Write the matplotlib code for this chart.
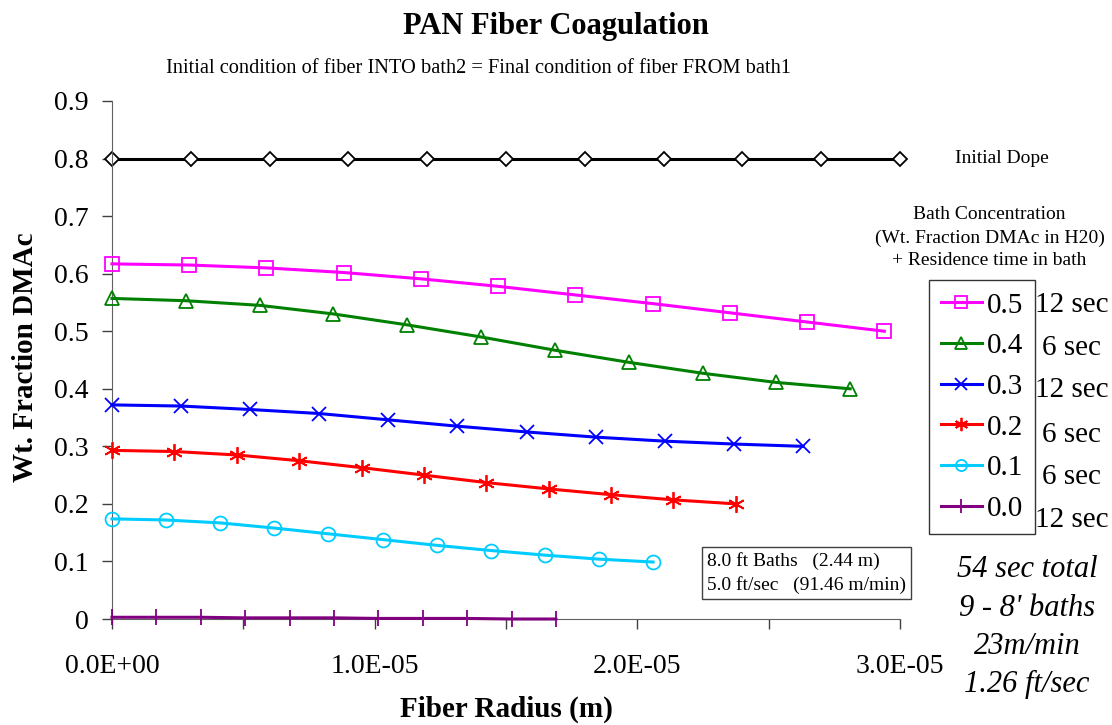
import matplotlib
matplotlib.use("Agg")
import matplotlib.pyplot as plt
from matplotlib.ticker import MultipleLocator, FuncFormatter
from matplotlib.lines import Line2D

plt.rcParams['font.family'] = ['Liberation Serif', 'DejaVu Serif']

# fiber radius (m) - each curve has 11 points from 0 to its end radius
r_end = {'dope': 3.0e-05, '0.5': 2.94e-05, '0.4': 2.81e-05, '0.3': 2.63e-05,
         '0.2': 2.375e-05, '0.1': 2.06e-05, '0.0': 1.69e-05}

dope = [0.8, 0.8, 0.8, 0.8, 0.8, 0.8, 0.8, 0.8, 0.8, 0.8, 0.8]
c05 = [0.617, 0.615, 0.610, 0.602, 0.591, 0.578, 0.563, 0.548, 0.532, 0.516, 0.500]
c04 = [0.557, 0.553, 0.545, 0.530, 0.511, 0.490, 0.467, 0.446, 0.427, 0.411, 0.400]
c03 = [0.372, 0.370, 0.364, 0.357, 0.346, 0.335, 0.325, 0.316, 0.309, 0.304, 0.300]
c02 = [0.293, 0.291, 0.285, 0.275, 0.263, 0.250, 0.237, 0.226, 0.216, 0.207, 0.200]
c01 = [0.174, 0.172, 0.167, 0.158, 0.148, 0.138, 0.128, 0.119, 0.111, 0.104, 0.099]
c00 = [0.003, 0.003, 0.003, 0.002, 0.002, 0.002, 0.001, 0.001, 0.001, 0.000, 0.000]

labels = ['0.5', '0.4', '0.3', '0.2', '0.1', '0.0']
times = ['12 sec', '6 sec', '12 sec', '6 sec', '6 sec', '12 sec']
notes = ['54 sec total', "9 - 8' baths", '23m/min', '1.26 ft/sec']


def radii(key, n):
    return [r_end[key] * i / (n - 1) for i in range(n)]


fig = plt.figure(figsize=(11.12, 7.25), dpi=100)
ax = fig.add_axes([0.1007, 0.1462, 0.7087, 0.7145])

ax.plot(radii('dope', len(dope)), dope, color='black', lw=2.2, marker='D',
        ms=7, mfc='white', mew=1.3, clip_on=False)

styles = [
    (c05, '#FF00FF', 's', 10),
    (c04, '#008000', '^', 10),
    (c03, '#0000FF', 'x', 10),
    (c02, '#FF0000', (6, 2, 0), 12),
    (c01, '#00CCFF', 'o', 10),
    (c00, '#800080', '|', 12),
]
handles = []
for lab, (vals, col, mk, ms) in zip(labels, styles):
    ax.plot(radii(lab, len(vals)), vals, color=col, lw=2.2, marker=mk, ms=ms,
            mfc='none', mec=col, mew=1.3, clip_on=False, zorder=3)
    handles.append(Line2D([], [], color=col, lw=2.2, marker=mk, ms=ms * 0.8,
                          mfc='none', mec=col, mew=1.3))

ax.set_xlim(0, 3.0e-05)
ax.set_ylim(0, 0.9)
ax.xaxis.set_major_locator(MultipleLocator(1e-05))
ax.xaxis.set_minor_locator(MultipleLocator(5e-06))
ax.yaxis.set_major_locator(MultipleLocator(0.1))
ax.xaxis.set_major_formatter(FuncFormatter(lambda v, p: f"{v:.1E}"))
ax.yaxis.set_major_formatter(FuncFormatter(lambda v, p: f"{round(v, 1):g}"))
ax.tick_params(axis='both', which='both', direction='out', length=7,
               width=1, color='#404040', labelsize=20)
ax.tick_params(axis='x', pad=18)
ax.tick_params(axis='y', pad=10)
for s in ['top', 'right']:
    ax.spines[s].set_visible(False)
for s in ['left', 'bottom']:
    ax.spines[s].set_color('#606060')

ax.set_ylabel('Wt. Fraction DMAc', fontsize=21, fontweight='bold')
ax.yaxis.set_label_coords(-0.093, 0.506)
ax.set_xlabel('Fiber Radius (m)', fontsize=21, fontweight='bold', labelpad=12)

fig.text(0.5, 0.963, 'PAN Fiber Coagulation', ha='center', va='center',
         fontsize=22, fontweight='bold')
fig.text(0.43, 0.905, 'Initial condition of fiber INTO bath2 = Final condition of fiber FROM bath1',
         ha='center', va='center', fontsize=14.7)

fig.text(0.901, 0.781, 'Initial Dope', ha='center', va='center', fontsize=14)
fig.text(0.89, 0.672, 'Bath Concentration\n(Wt. Fraction DMAc in H20)\n+ Residence time in bath',
         ha='center', va='center', fontsize=14, linespacing=1.45)

leg = fig.legend(handles, labels, loc='upper left', bbox_to_anchor=(0.8355, 0.614),
                 fontsize=21, frameon=True, fancybox=False, edgecolor='black',
                 handlelength=1.38, handletextpad=0.17, labelspacing=0.49,
                 borderpad=0.42, borderaxespad=0)
leg.get_frame().set_linewidth(1.0)

# residence times sit just right of the legend box
time_y = [305, 348, 390, 435, 477, 520]
for ty, txt in zip(time_y, times):
    fig.text(0.964, 1 - ty / 725, txt, ha='center', va='center', fontsize=21)

fig.text(0.636, 0.2095, '8.0 ft Baths   (2.44 m)\n5.0 ft/sec   (91.46 m/min)',
         ha='left', va='center', fontsize=14, linespacing=1.45,
         bbox=dict(boxstyle='square,pad=0.25', fc='white', ec='#404040', lw=1))

for i, n in enumerate(notes):
    fig.text(0.9236, 0.2138 - i * 0.0525, n, ha='center', va='center',
             fontsize=22, style='italic')

fig.savefig('out.png', dpi=100)
